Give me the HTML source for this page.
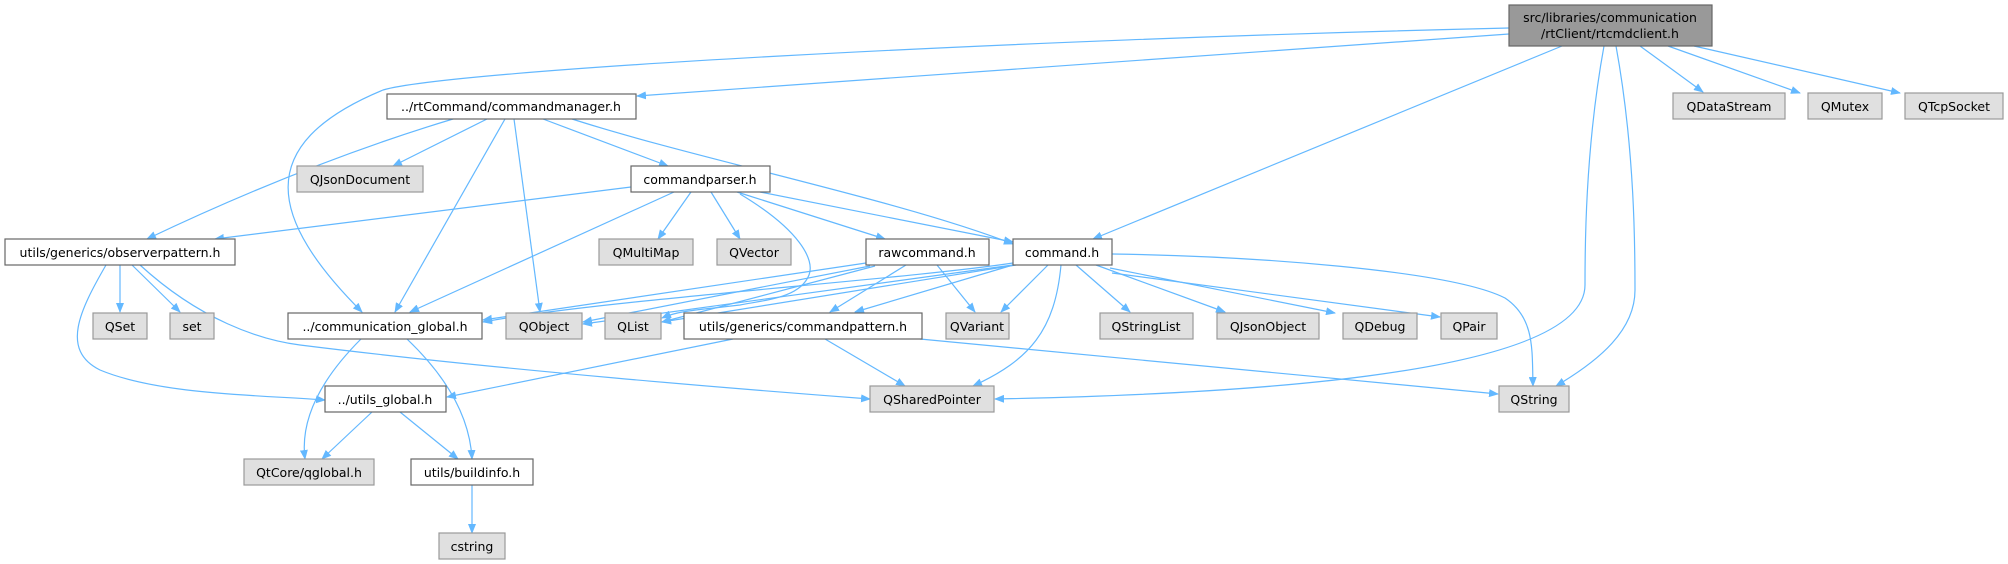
<!DOCTYPE html>
<html><head><meta charset="utf-8"><style>
html,body{margin:0;padding:0;background:#fff;}
svg{display:block;}
text{font-family:"DejaVu Sans","Liberation Sans",sans-serif;font-size:12.5px;fill:#000;text-anchor:middle;}
.e{fill:none;stroke:#63b8ff;stroke-width:1.2;marker-end:url(#a);}
.w{fill:#fff;stroke:#666;stroke-width:1.2;}
.g{fill:#e0e0e0;stroke:#999;stroke-width:1.2;}
.r{fill:#999;stroke:#666;stroke-width:1.2;}
</style></head><body>
<svg width="2008" height="564" viewBox="0 0 2008 564" xmlns="http://www.w3.org/2000/svg">
<defs><marker id="a" markerWidth="10" markerHeight="8" refX="9" refY="4" orient="auto" markerUnits="userSpaceOnUse"><path d="M0,0 L10,4 L0,8 z" fill="#63b8ff"/></marker></defs>
<!-- edges root -->
<path class="e" d="M1509,28 C1000,40 450,70 383,90 C250,145 270,220 362,312"/>
<path class="e" d="M1509,34 L637,96"/>
<path class="e" d="M1562,46 L1093,239"/>
<path class="e" d="M1604,46 C1585,150 1585,250 1585,285 C1585,380 1200,395 995,399"/>
<path class="e" d="M1616,46 C1635,150 1635,250 1635,290 C1635,330 1600,360 1556,386"/>
<path class="e" d="M1640,46 L1703,92"/>
<path class="e" d="M1668,46 L1800,93"/>
<path class="e" d="M1694,46 L1900,93"/>
<!-- commandmanager -->
<path class="e" d="M453,119 C350,150 250,190 147,239"/>
<path class="e" d="M487,119 L393,166"/>
<path class="e" d="M505,119 L395,312"/>
<path class="e" d="M514,119 L540,312"/>
<path class="e" d="M543,119 L668,166"/>
<path class="e" d="M572,119 C700,160 900,200 1013,244"/>
<!-- commandparser -->
<path class="e" d="M631,187 L215,239"/>
<path class="e" d="M674,192 L410,312"/>
<path class="e" d="M691,192 L658,239"/>
<path class="e" d="M711,192 L740,239"/>
<path class="e" d="M737,192 L885,239"/>
<path class="e" d="M760,192 L1013,242"/>
<path class="e" d="M740,194 C800,230 815,260 809,275 C800,298 765,300 740,305 C700,310 680,310 662,318"/>
<!-- rawcommand -->
<path class="e" d="M866,263 L483,320"/>
<path class="e" d="M870,266 L583,322"/>
<path class="e" d="M875,266 L662,322"/>
<path class="e" d="M906,265 L830,312"/>
<path class="e" d="M937,265 L975,312"/>
<!-- command.h -->
<path class="e" d="M1013,263 C900,280 600,300 483,322"/>
<path class="e" d="M1013,265 L583,324"/>
<path class="e" d="M1016,265 L662,322"/>
<path class="e" d="M1013,265 L855,312"/>
<path class="e" d="M1048,265 L1001,312"/>
<path class="e" d="M1061,265 C1055,330 1030,360 973,386"/>
<path class="e" d="M1076,265 L1130,312"/>
<path class="e" d="M1096,265 L1225,312"/>
<path class="e" d="M1110,268 L1335,313"/>
<path class="e" d="M1112,273 L1440,317"/>
<path class="e" d="M1112,254 C1250,256 1450,270 1505,298 C1535,318 1532,350 1533,386"/>
<!-- commandpattern -->
<path class="e" d="M733,339 L447,397"/>
<path class="e" d="M825,339 L905,386"/>
<path class="e" d="M920,339 L1498,394"/>
<!-- observerpattern -->
<path class="e" d="M120,265 L120,312"/>
<path class="e" d="M132,265 L180,312"/>
<path class="e" d="M106,265 C80,310 60,350 100,370 C160,395 260,395 325,400"/>
<path class="e" d="M140,265 C200,320 260,340 300,345 C500,370 750,390 870,399"/>
<!-- communication_global -->
<path class="e" d="M361,339 C320,380 300,420 305,459"/>
<path class="e" d="M407,339 C450,380 470,420 472,459"/>
<!-- utils_global -->
<path class="e" d="M372,412 L322,459"/>
<path class="e" d="M400,412 L458,459"/>
<path class="e" d="M472,485 L472,533"/>
<!-- nodes -->
<rect class="r" x="1509" y="5" width="203" height="41"/><text x="1610" y="22">src/libraries/communication</text><text x="1610" y="38">/rtClient/rtcmdclient.h</text>
<rect class="w" x="387" y="94" width="249" height="25"/><text x="511" y="111">../rtCommand/commandmanager.h</text>
<rect class="g" x="1673" y="93" width="112" height="26"/><text x="1729" y="111">QDataStream</text>
<rect class="g" x="1808" y="93" width="74" height="26"/><text x="1845" y="111">QMutex</text>
<rect class="g" x="1905" y="93" width="98" height="26"/><text x="1954" y="111">QTcpSocket</text>
<rect class="g" x="297" y="166" width="126" height="26"/><text x="360" y="184">QJsonDocument</text>
<rect class="w" x="631" y="166" width="139" height="26"/><text x="700" y="184">commandparser.h</text>
<rect class="w" x="5" y="239" width="230" height="26"/><text x="120" y="257">utils/generics/observerpattern.h</text>
<rect class="g" x="599" y="239" width="94" height="26"/><text x="646" y="257">QMultiMap</text>
<rect class="g" x="717" y="239" width="74" height="26"/><text x="754" y="257">QVector</text>
<rect class="w" x="866" y="239" width="123" height="26"/><text x="927" y="257">rawcommand.h</text>
<rect class="w" x="1013" y="239" width="99" height="26"/><text x="1062" y="257">command.h</text>
<rect class="g" x="93" y="313" width="54" height="26"/><text x="120" y="331">QSet</text>
<rect class="g" x="170" y="313" width="44" height="26"/><text x="192" y="331">set</text>
<rect class="w" x="288" y="313" width="194" height="26"/><text x="385" y="331">../communication_global.h</text>
<rect class="g" x="506" y="313" width="76" height="26"/><text x="544" y="331">QObject</text>
<rect class="g" x="605" y="313" width="56" height="26"/><text x="633" y="331">QList</text>
<rect class="w" x="684" y="313" width="238" height="26"/><text x="803" y="331">utils/generics/commandpattern.h</text>
<rect class="g" x="946" y="313" width="63" height="26"/><text x="977" y="331">QVariant</text>
<rect class="g" x="1100" y="313" width="93" height="26"/><text x="1146" y="331">QStringList</text>
<rect class="g" x="1217" y="313" width="102" height="26"/><text x="1268" y="331">QJsonObject</text>
<rect class="g" x="1343" y="313" width="74" height="26"/><text x="1380" y="331">QDebug</text>
<rect class="g" x="1441" y="313" width="56" height="26"/><text x="1469" y="331">QPair</text>
<rect class="w" x="325" y="386" width="121" height="26"/><text x="385" y="404">../utils_global.h</text>
<rect class="g" x="870" y="386" width="124" height="26"/><text x="932" y="404">QSharedPointer</text>
<rect class="g" x="1499" y="386" width="70" height="26"/><text x="1534" y="404">QString</text>
<rect class="g" x="244" y="459" width="130" height="26"/><text x="309" y="477">QtCore/qglobal.h</text>
<rect class="w" x="411" y="459" width="122" height="26"/><text x="472" y="477">utils/buildinfo.h</text>
<rect class="g" x="439" y="533" width="66" height="26"/><text x="472" y="551">cstring</text>
</svg>
</body></html>
